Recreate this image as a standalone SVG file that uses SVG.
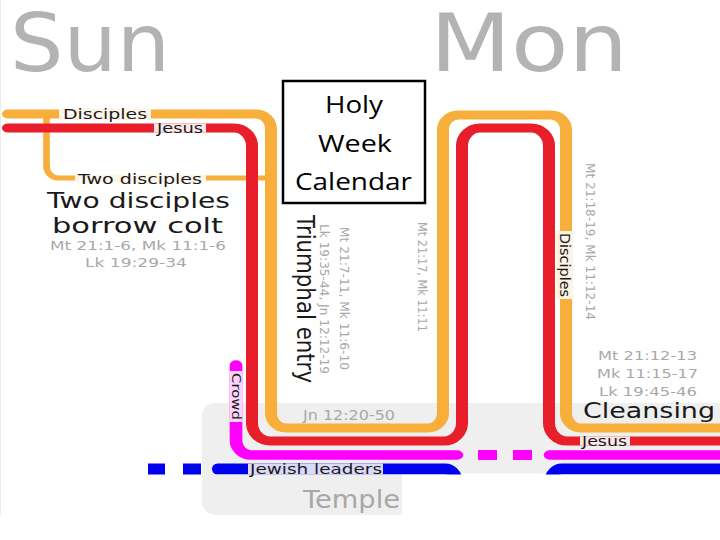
<svg xmlns="http://www.w3.org/2000/svg" width="720" height="540" viewBox="0 0 720 540">
<style>
.lbl{font-family:"DejaVu Sans",sans-serif;fill:#1a1a1a}
.ref{font-family:"DejaVu Sans",sans-serif;fill:#a8a8a8}
.day{font-family:"DejaVu Sans",sans-serif;fill:#b3b3b3;font-size:80px}
.ln{fill:none;stroke-linecap:round;stroke-linejoin:round}
.or{stroke:#f8ae3b}
.rd{stroke:#e81e2a}
.mg{stroke:#ff00ff}
.bl{stroke:#0000f0}
</style>
<defs>
<clipPath id="clipTop"><rect x="0" y="0" width="720" height="474.5"/></clipPath>
</defs>
<rect width="720" height="540" fill="#ffffff"/>
<line x1="0.5" y1="0" x2="0.5" y2="515" stroke="#ececec"/>
<g id="temple-area">
<path d="M217,403 H720 V473.5 H402 V515 H217 Q202,515 202,500 V418 Q202,403 217,403 Z" fill="#efefef"/>
</g>
<g id="days">
<text class="day" x="10" y="71" textLength="160" lengthAdjust="spacingAndGlyphs">Sun</text>
<text class="day" x="430" y="71" textLength="198" lengthAdjust="spacingAndGlyphs">Mon</text>
</g>
<g id="connectors">
<g transform="scale(1.3333333,1)">
<path id="line-disciples" class="ln or" stroke-width="9" d="M6,114 H192 A11.25,15 0 0 1 203.25,129 V413 A11.25,15 0 0 0 214.5,428 H321 A11.25,15 0 0 0 332.25,413 V130 A11.25,15 0 0 1 343.5,115 H413.25 A11.25,15 0 0 1 424.5,130 V413 A11.25,15 0 0 0 435.75,428 H545"/>
<path id="line-two-disciples" class="ln or" stroke-width="5" d="M34.875,114 V166 A9,12 0 0 0 43.875,178 H203.25"/>
<path id="line-jesus" class="ln rd" stroke-width="9" d="M6,128 H175.5 A13.5,18 0 0 1 189,146 V423 A13.5,18 0 0 0 202.5,441 H333 A13.5,18 0 0 0 346.5,423 V146 A13.5,18 0 0 1 360,128 H398.25 A13.5,18 0 0 1 411.75,146 V423 A13.5,18 0 0 0 425.25,441 H545"/>
<path id="line-crowd" class="ln mg" stroke-width="9.5" d="M177,365 V440 A11.25,15 0 0 0 188.25,455 H342.75 M412.5,455 H545"/>
</g>
<rect x="478" y="450" width="19" height="10" fill="#ff00ff"/>
<rect x="513" y="450" width="19" height="10" fill="#ff00ff"/>
<g id="line-leaders" clip-path="url(#clipTop)">
<path class="ln bl" stroke-width="11" d="M217.5,469 H445 A12,12 0 0 1 457,481 V495 M550,495 V481 A12,12 0 0 1 562,469 H730"/>
</g>
<rect x="148" y="463.5" width="17" height="11" fill="#0000f0"/>
<rect x="183" y="463.5" width="18" height="11" fill="#0000f0"/>
</g>
<g id="line-labels">
<rect x="59" y="108.5" width="92" height="11" fill="#fdf5e8"/>
<text class="lbl" x="63" y="118.5" font-size="14" textLength="84" lengthAdjust="spacingAndGlyphs">Disciples</text>
<rect x="154" y="123.5" width="52" height="9" fill="#fde9e9"/>
<text class="lbl" x="157" y="132.5" font-size="14" textLength="46" lengthAdjust="spacingAndGlyphs">Jesus</text>
<rect x="75" y="174.5" width="131" height="8" fill="#fdf5e8"/>
<text class="lbl" x="78" y="184" font-size="13.5" textLength="124" lengthAdjust="spacingAndGlyphs">Two disciples</text>
<rect x="556" y="231" width="17" height="68" fill="#fdf3e3"/>
<text class="lbl" transform="translate(559.5,233) rotate(90)" font-size="14" textLength="64" lengthAdjust="spacingAndGlyphs">Disciples</text>
<rect x="229.5" y="371" width="13" height="51" fill="#fbd3fb"/>
<text class="lbl" transform="translate(232,373) rotate(90)" font-size="12.5" textLength="47" lengthAdjust="spacingAndGlyphs">Crowd</text>
<rect x="248" y="463.5" width="135" height="11" fill="#dadaf8"/>
<text class="lbl" x="250" y="474" font-size="14" textLength="132" lengthAdjust="spacingAndGlyphs">Jewish leaders</text>
<rect x="580" y="436.5" width="50" height="9" fill="#fde9e9"/>
<text class="lbl" x="582" y="446" font-size="14" textLength="45" lengthAdjust="spacingAndGlyphs">Jesus</text>
</g>
<g id="event-borrow-colt">
<text class="lbl" x="47" y="208" font-size="22" textLength="183" lengthAdjust="spacingAndGlyphs" fill="#111">Two disciples</text>
<text class="lbl" x="52" y="233" font-size="21.5" textLength="171" lengthAdjust="spacingAndGlyphs" fill="#111">borrow colt</text>
<text class="ref" x="50" y="250" font-size="12" textLength="176" lengthAdjust="spacingAndGlyphs">Mt 21:1-6,  Mk 11:1-6</text>
<text class="ref" x="85" y="267" font-size="12.5" textLength="102" lengthAdjust="spacingAndGlyphs">Lk 19:29-34</text>
</g>
<g id="title-box">
<rect x="283" y="81" width="142" height="122" fill="#ffffff" stroke="#000000" stroke-width="2.5"/>
<text x="325" y="113" font-family="'Open Sans',sans-serif" font-size="24" fill="#000" textLength="58" lengthAdjust="spacingAndGlyphs">Holy</text>
<text x="318" y="152" font-family="'Open Sans',sans-serif" font-size="24" fill="#000" textLength="74" lengthAdjust="spacingAndGlyphs">Week</text>
<text x="295" y="190" font-family="'Open Sans',sans-serif" font-size="24" fill="#000" textLength="117" lengthAdjust="spacingAndGlyphs">Calendar</text>
</g>
<g id="event-triumphal-entry">
<text class="lbl" transform="translate(297,215) rotate(90)" font-size="24" fill="#111" textLength="168" lengthAdjust="spacingAndGlyphs">Triumphal entry</text>
<text class="ref" transform="translate(319.5,224) rotate(90)" font-size="12" textLength="150" lengthAdjust="spacingAndGlyphs">Lk 19:35-44, Jn 12:12-19</text>
<text class="ref" transform="translate(339.5,227) rotate(90)" font-size="12" textLength="143" lengthAdjust="spacingAndGlyphs">Mt 21:7-11, Mk 11:6-10</text>
</g>
<g id="event-temple-talk">
<text class="ref" x="303" y="420" font-size="13.5" textLength="92" lengthAdjust="spacingAndGlyphs">Jn 12:20-50</text>
</g>
<g id="event-bethany">
<text class="ref" transform="translate(418,222) rotate(90)" font-size="12" textLength="110" lengthAdjust="spacingAndGlyphs">Mt 21:17, Mk 11:11</text>
</g>
<g id="event-fig-tree">
<text class="ref" transform="translate(586,163) rotate(90)" font-size="12" textLength="157" lengthAdjust="spacingAndGlyphs">Mt 21:18-19, Mk 11:12-14</text>
</g>
<g id="event-cleansing">
<text class="ref" x="598" y="360" font-size="12.5" textLength="99" lengthAdjust="spacingAndGlyphs">Mt 21:12-13</text>
<text class="ref" x="597" y="378" font-size="12.5" textLength="101" lengthAdjust="spacingAndGlyphs">Mk 11:15-17</text>
<text class="ref" x="599" y="396" font-size="12.5" textLength="98" lengthAdjust="spacingAndGlyphs">Lk 19:45-46</text>
<text class="lbl" x="583" y="418" font-size="21.5" fill="#111" textLength="132" lengthAdjust="spacingAndGlyphs">Cleansing</text>
</g>
<g id="place-temple">
<text class="ref" x="303" y="508" font-size="25" fill="#9a9a9a" textLength="97" lengthAdjust="spacingAndGlyphs">Temple</text>
</g>
</svg>
